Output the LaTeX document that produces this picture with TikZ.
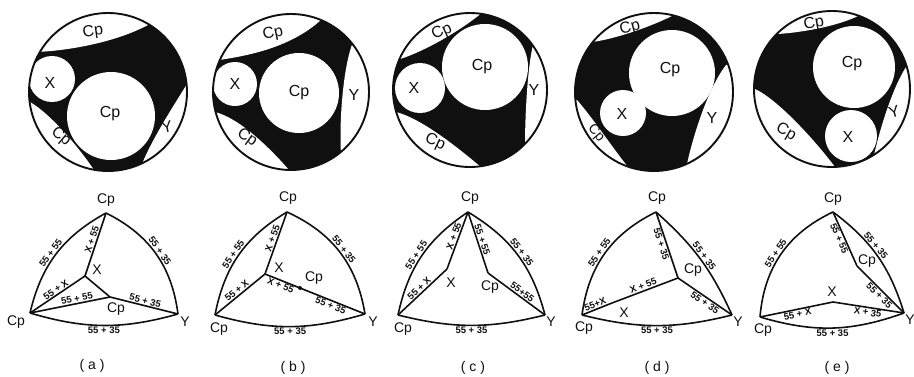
\documentclass[tikz,border=0pt]{standalone}
\usepackage{fontspec}
\setmainfont{Liberation Sans}
\usetikzlibrary{positioning}
\definecolor{grainink}{HTML}{101010}

\begin{document}
\begin{tikzpicture}[x=1pt,y=-1pt,
    rim/.style={draw=grainink,line width=1.9pt},
    glab/.style={text=grainink,font=\fontsize{16}{16}\selectfont,inner sep=0pt},
    vlab/.style={text=grainink,font=\fontsize{14}{14}\selectfont,inner sep=0pt},
    elab/.style={text=grainink,font=\fontsize{9.5}{10}\selectfont\bfseries,sloped,inner sep=0.8pt},
    edge/.style={draw=grainink,line width=1.6pt,line join=round},
    caplab/.style={text=grainink,font=\fontsize{14}{14}\selectfont,inner sep=0pt}]
    \useasboundingbox (0,0) rectangle (914,376);

    % ---- (a) grains
    \begin{scope}[shift={(108,92)}]
      \begin{scope}
        \clip (0,0) circle (79);
        \fill[grainink] (0,0) circle (79);
        \fill[white] (-72,-40) .. controls (-45,-41) and (5,-48) .. (42,-68)
          -- (60,-100) -- (-100,-100) -- (-100,-45) -- cycle;
        \fill[white] (-78,10) .. controls (-57,22) and (-28,57) .. (-14,78)
          -- (-10,100) -- (-100,100) -- (-100,10) -- cycle;
        \fill[white] (79,-8) .. controls (68,10) and (45,45) .. (34,72)
          -- (40,100) -- (100,100) -- (100,-8) -- cycle;
        \fill[white] (-56,-13) circle (23);
        \fill[white] (3,24) circle (44);
      \end{scope}
      \draw[rim] (0,0) circle (79);
      \node[glab,rotate=8] (ga-top) at (-15,-60) {Cp};
      \node[glab] (ga-x) at (-58,-9) {X};
      \node[glab] (ga-cp) at (2,22) {Cp};
      \node[glab,rotate=-40] (ga-lft) at (-47,45) {Cp};
      \node[glab,rotate=12] (ga-y) at (59,35) {Y};
    \end{scope}

    % ---- (b) grains
    \begin{scope}[shift={(291,92)}]
      \begin{scope}
        \clip (0,0) circle (78);
        \fill[grainink] (0,0) circle (78);
        \fill[white] (-72,-32) .. controls (-45,-36) and (0,-44) .. (31,-73)
          -- (50,-100) -- (-100,-100) -- (-100,-35) -- cycle;
        \fill[white] (-76,20) .. controls (-52,26) and (-22,55) .. (-2,78)
          -- (0,100) -- (-100,100) -- (-100,20) -- cycle;
        \fill[white] (62,-50) .. controls (52,-25) and (48,30) .. (50,62)
          -- (55,100) -- (100,100) -- (100,-55) -- (65,-60) -- cycle;
        \fill[white] (-56,-8) circle (22);
        \fill[white] (8,1) circle (40);
      \end{scope}
      \draw[rim] (0,0) circle (78);
      \node[glab,rotate=12] (gb-top) at (-18,-58) {Cp};
      \node[glab] (gb-x) at (-56,-8) {X};
      \node[glab] (gb-cp) at (8,1) {Cp};
      \node[glab,rotate=-35] (gb-lft) at (-44,46) {Cp};
      \node[glab] (gb-y) at (63,3) {Y};
    \end{scope}

    % ---- (c) grains
    \begin{scope}[shift={(470,90)}]
      \begin{scope}
        \clip (0,0) circle (77);
        \fill[grainink] (0,0) circle (77);
        \fill[white] (-73,-30) .. controls (-52,-36) and (-15,-55) .. (13,-78)
          -- (30,-100) -- (-100,-100) -- (-100,-30) -- cycle;
        \fill[white] (-74,22) .. controls (-50,28) and (-15,55) .. (12,78)
          -- (15,100) -- (-100,100) -- (-100,22) -- cycle;
        \fill[white] (63,-45) .. controls (57,-20) and (55,30) .. (55,55)
          -- (65,100) -- (100,100) -- (100,-55) -- (70,-55) -- cycle;
        \fill[white] (-50,-2) circle (25);
        \fill[white] (15,-23) circle (43);
      \end{scope}
      \draw[rim] (0,0) circle (77);
      \node[glab,rotate=25] (gc-top) at (-28,-58) {Cp};
      \node[glab] (gc-x) at (-56,-2) {X};
      \node[glab] (gc-cp) at (12,-23) {Cp};
      \node[glab,rotate=-25] (gc-lft) at (-35,52) {Cp};
      \node[glab] (gc-y) at (64,0) {Y};
    \end{scope}

    % ---- (d) grains
    \begin{scope}[shift={(654,92)}]
      \begin{scope}
        \clip (0,0) circle (79);
        \fill[grainink] (0,0) circle (79);
        \fill[white] (-62,-50) .. controls (-45,-52) and (-10,-62) .. (20,-77)
          -- (40,-100) -- (-100,-100) -- (-100,-50) -- cycle;
        \fill[white] (-77,8) .. controls (-62,25) and (-42,55) .. (-26,75)
          -- (-25,100) -- (-100,100) -- (-100,8) -- cycle;
        \fill[white] (72,-27) .. controls (55,-5) and (40,40) .. (33,72)
          -- (40,100) -- (100,100) -- (100,-30) -- cycle;
        \fill[white] (18,-19) circle (43);
        \fill[white] (-31,21) circle (23);
      \end{scope}
      \draw[rim] (0,0) circle (79);
      \node[glab,rotate=15] (gd-top) at (-24,-64) {Cp};
      \node[glab] (gd-cp) at (16,-22) {Cp};
      \node[glab] (gd-x) at (-32,22) {X};
      \node[glab,rotate=-50,font=\fontsize{14}{14}\selectfont] (gd-lft) at (-58,41) {Cp};
      \node[glab] (gd-y) at (58,26) {Y};
    \end{scope}

    % ---- (e) grains
    \begin{scope}[shift={(832,89)}]
      \begin{scope}
        \clip (0,0) circle (78);
        \fill[grainink] (0,0) circle (78);
        \fill[white] (-55,-55) .. controls (-35,-56) and (5,-62) .. (28,-74)
          -- (40,-100) -- (-100,-100) -- (-100,-55) -- cycle;
        \fill[white] (-77,0) .. controls (-55,10) and (-18,50) .. (3,78)
          -- (5,100) -- (-100,100) -- (-100,0) -- cycle;
        \fill[white] (74,-22) .. controls (60,0) and (48,40) .. (42,66)
          -- (50,100) -- (100,100) -- (100,-25) -- cycle;
        \fill[white] (22,-22) circle (41);
        \fill[white] (19,47) circle (26);
      \end{scope}
      \draw[rim] (0,0) circle (78);
      \node[glab,rotate=10] (ge-top) at (-18,-65) {Cp};
      \node[glab] (ge-cp) at (20,-25) {Cp};
      \node[glab] (ge-x) at (16,48) {X};
      \node[glab,rotate=-30] (ge-lft) at (-46,43) {Cp};
      \node[glab,rotate=15] (ge-y) at (62,23) {Y};
    \end{scope}

    % ---- (a) graph
    \coordinate (a-top) at (106,213);
    \coordinate (a-lft) at (30,313);
    \coordinate (a-y) at (178,314);
    \coordinate (a-x) at (85,276);
    \coordinate (a-cp) at (110,297);
    \node[vlab] (a-top-l) at (106,200) {Cp};
    \node[vlab] (a-lft-l) at (16,322) {Cp};
    \node[vlab] (a-y-l) at (185,322) {Y};
    \node[vlab] (a-x-l) at (97,270) {X};
    \node[vlab] (a-cp-l) at (116,309) {Cp};
    \draw[edge] (a-lft) to[bend left=24] node[elab,above,pos=.48] (a-e1) {55 + 55} (a-top);
    \draw[edge] (a-x) -- node[elab,above,pos=.55] (a-e2) {X + 55} (a-top);
    \draw[edge] (a-lft) -- node[elab,above,pos=.52] (a-e3) {55 + X} (a-x);
    \draw[edge] (a-x) -- (a-cp);
    \draw[edge] (a-lft) -- node[elab,above,pos=.6] (a-e4) {55 + 55} (a-cp);
    \draw[edge] (a-cp) -- node[elab,above] (a-e5) {55 + 35} (a-y);
    \draw[edge] (a-top) to[bend left=28] node[elab,above] (a-e6) {55 + 35} (a-y);
    \draw[edge] (a-lft) to[bend right=16] node[elab,below] (a-e7) {55 + 35} (a-y);
    \node[caplab] (a-cap) at (92,366) {( a )};

    % ---- (b) graph
    \coordinate (b-top) at (287,212);
    \coordinate (b-lft) at (215,315);
    \coordinate (b-y) at (365,314);
    \coordinate (b-x) at (265,274);
    \coordinate (b-cp) at (300,288);
    \node[vlab] (b-top-l) at (288,198) {Cp};
    \node[vlab] (b-lft-l) at (219,329) {Cp};
    \node[vlab] (b-y-l) at (373,322) {Y};
    \node[vlab] (b-x-l) at (279,268) {X};
    \node[vlab] (b-cp-l) at (314,278) {Cp};
    \draw[edge] (b-lft) to[bend left=24] node[elab,above,pos=.48] (b-e1) {55 + 55} (b-top);
    \draw[edge] (b-x) -- node[elab,above,pos=.55] (b-e2) {X + 55} (b-top);
    \draw[edge] (b-lft) -- node[elab,above] (b-e3) {55 + X} (b-x);
    \draw[edge] (b-x) -- node[elab,below] (b-e4) {X + 55} (b-cp);
    \draw[edge] (b-cp) -- node[elab,below] (b-e5) {55 + 35} (b-y);
    \fill[grainink] (b-cp) circle (2);
    \draw[edge] (b-top) to[bend left=28] node[elab,above] (b-e6) {55 + 35} (b-y);
    \draw[edge] (b-lft) to[bend right=16] node[elab,below] (b-e7) {55 + 35} (b-y);
    \node[caplab] (b-cap) at (293,368) {( b )};

    % ---- (c) graph
    \coordinate (c-top) at (468,212);
    \coordinate (c-lft) at (398,315);
    \coordinate (c-y) at (545,315);
    \coordinate (c-x) at (447,269);
    \coordinate (c-cp) at (488,273);
    \node[vlab] (c-top-l) at (470,198) {Cp};
    \node[vlab] (c-lft-l) at (403,329) {Cp};
    \node[vlab] (c-y-l) at (551,322) {Y};
    \node[vlab] (c-x-l) at (451,283) {X};
    \node[vlab] (c-cp-l) at (490,287) {Cp};
    \draw[edge] (c-lft) to[bend left=22] node[elab,above,pos=.48] (c-e1) {55 + 55} (c-top);
    \draw[edge] (c-x) -- node[elab,above,pos=.55] (c-e2) {X + 55} (c-top);
    \draw[edge] (c-lft) -- node[elab,above] (c-e3) {55 + X} (c-x);
    \draw[edge] (c-top) -- node[elab,above,pos=.48] (c-e4) {55 + 55} (c-cp);
    \draw[edge] (c-cp) -- node[elab,above,pos=.55] (c-e5) {55+55} (c-y);
    \draw[edge] (c-top) to[bend left=22] node[elab,above] (c-e6) {55 + 35} (c-y);
    \draw[edge] (c-lft) to[bend right=14] node[elab,below] (c-e7) {55 + 35} (c-y);
    \node[caplab] (c-cap) at (473,368) {( c )};

    % ---- (d) graph
    \coordinate (d-top) at (656,212);
    \coordinate (d-lft) at (582,315);
    \coordinate (d-y) at (732,315);
    \coordinate (d-cp) at (678,278);
    \coordinate (d-x) at (612,303);
    \node[vlab] (d-top-l) at (657,198) {Cp};
    \node[vlab] (d-lft-l) at (584,328) {Cp};
    \node[vlab] (d-y-l) at (738,322) {Y};
    \node[vlab] (d-cp-l) at (693,270) {Cp};
    \node[vlab] (d-x-l) at (624,313) {X};
    \draw[edge] (d-lft) to[bend left=28] node[elab,above,pos=.48] (d-e1) {55 + 55} (d-top);
    \draw[edge] (d-top) -- node[elab,below,pos=.46] (d-e2) {55 + 35} (d-cp);
    \draw[edge] (d-top) to[bend left=12] node[elab,above] (d-e3) {55 + 35} (d-y);
    \draw[edge] (d-cp) -- node[elab,below,pos=.55] (d-e4) {55 + 35} (d-y);
    \draw[edge] (d-lft) -- node[elab,above] (d-e5) {55+X} (d-x);
    \draw[edge] (d-x) -- node[elab,above] (d-e6) {X + 55} (d-cp);
    \draw[edge] (d-lft) to[bend right=14] node[elab,below] (d-e7) {55 + 35} (d-y);
    \node[caplab] (d-cap) at (657,368) {( d )};

    % ---- (e) graph
    \coordinate (e-top) at (833,212);
    \coordinate (e-lft) at (760,317);
    \coordinate (e-y) at (904,313);
    \coordinate (e-cp) at (857,266);
    \coordinate (e-x) at (833,302);
    \node[vlab] (e-top-l) at (833,199) {Cp};
    \node[vlab] (e-lft-l) at (763,330) {Cp};
    \node[vlab] (e-y-l) at (910,320) {Y};
    \node[vlab] (e-cp-l) at (867,261) {Cp};
    \node[vlab] (e-x-l) at (832,292) {X};
    \draw[edge] (e-lft) to[bend left=30] node[elab,above,pos=.48] (e-e1) {55 + 55} (e-top);
    \draw[edge] (e-top) -- node[elab,below,pos=.45] (e-e2) {55 + 55} (e-cp);
    \draw[edge] (e-cp) -- node[elab,below,pos=.55] (e-e3) {55 + 35} (e-y);
    \draw[edge] (e-top) to[bend left=18] node[elab,above,pos=.42] (e-e4) {55 + 35} (e-y);
    \draw[edge] (e-lft) -- node[elab,below] (e-e5) {55 + X} (e-x);
    \draw[edge] (e-x) -- node[elab,below] (e-e6) {X + 35} (e-y);
    \draw[edge] (e-lft) to[bend right=18] node[elab,below] (e-e7) {55 + 35} (e-y);
    \node[caplab] (e-cap) at (837,368) {( e )};
  \end{tikzpicture}
\end{document}
